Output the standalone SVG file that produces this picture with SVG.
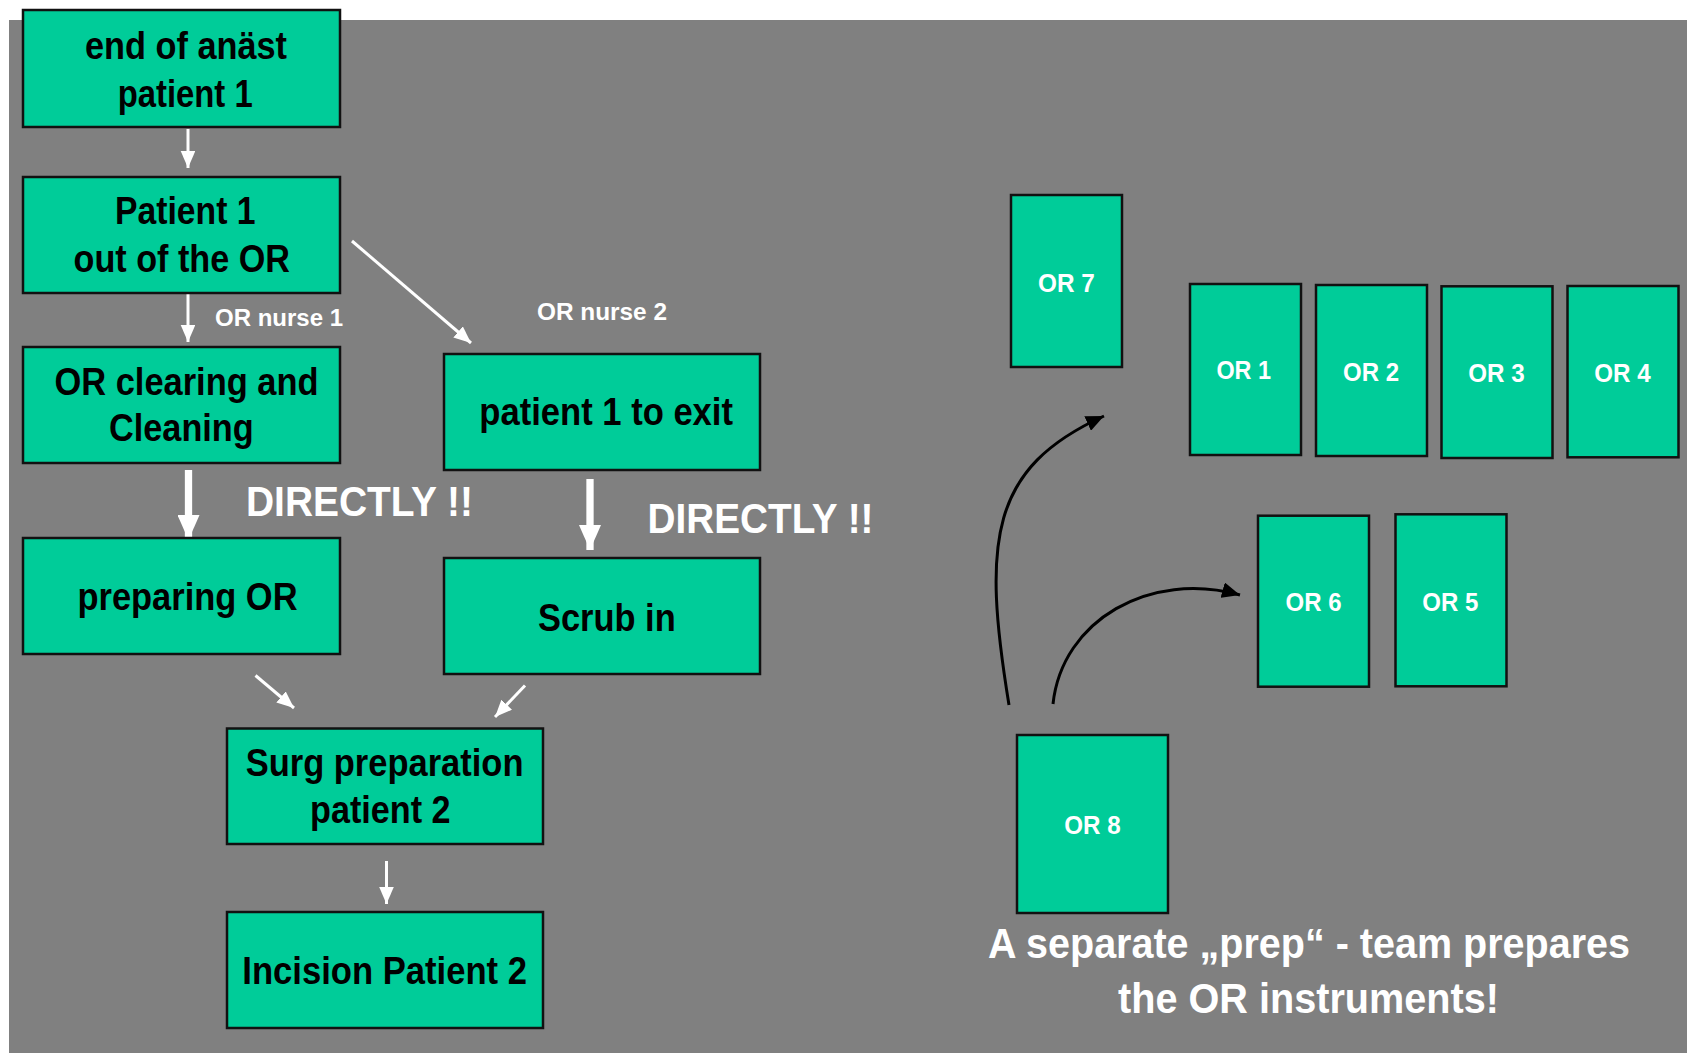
<svg xmlns="http://www.w3.org/2000/svg" width="1687" height="1053" viewBox="0 0 1687 1053">
<defs>
<style>
.box{fill:#00CC99;stroke:#111;stroke-width:2.5}
.t{font-family:"Liberation Sans",Arial,sans-serif;font-weight:bold;font-size:38px;fill:#000}
.w{font-family:"Liberation Sans",Arial,sans-serif;font-weight:bold;fill:#fff}
.or{font-size:26px}
.thin{stroke:#fff;stroke-width:3;fill:none}
.thick{stroke:#fff;stroke-width:7.3;fill:none}
.blk{stroke:#000;stroke-width:3;fill:none}
</style>
<marker id="hw" markerUnits="userSpaceOnUse" markerWidth="17" markerHeight="15" refX="17" refY="7.3" orient="auto">
<path d="M0,0 L17,7.3 L0,14.6 z" fill="#fff"/>
</marker>
<marker id="hW" markerUnits="userSpaceOnUse" markerWidth="25" markerHeight="22" refX="25" refY="11" orient="auto">
<path d="M0,0 L25,11 L0,22 z" fill="#fff"/>
</marker>
<marker id="hb" markerUnits="userSpaceOnUse" markerWidth="18" markerHeight="16" refX="18" refY="8" orient="auto">
<path d="M0,0 L18,8 L0,16 z" fill="#000"/>
</marker>
</defs>
<rect x="0" y="0" width="1687" height="1053" fill="#fff"/>
<rect x="9" y="20" width="1678" height="1033" fill="#808080"/>

<g id="connectors">
<line class="thin" x1="188" y1="129" x2="188" y2="168" marker-end="url(#hw)"/>
<line class="thin" x1="188" y1="293" x2="188" y2="342" marker-end="url(#hw)"/>
<line class="thin" x1="352" y1="241" x2="471" y2="343" marker-end="url(#hw)"/>
<line class="thick" x1="188.5" y1="470" x2="188.5" y2="540" marker-end="url(#hW)"/>
<line class="thick" x1="590" y1="479" x2="590" y2="550" marker-end="url(#hW)"/>
<line class="thin" x1="255.5" y1="675.5" x2="294" y2="708" marker-end="url(#hw)"/>
<line class="thin" x1="525" y1="685.5" x2="495" y2="717" marker-end="url(#hw)"/>
<line class="thin" x1="386.5" y1="861" x2="386.5" y2="904" marker-end="url(#hw)"/>
<path class="blk" d="M1009,705 C982,540 990,468 1104,416" marker-end="url(#hb)"/>
<path class="blk" d="M1053,704 C1062,620 1150,570 1240,595" marker-end="url(#hb)"/>
</g>

<g id="labels">
<text class="w" font-size="24" x="215" y="326" textLength="128" lengthAdjust="spacingAndGlyphs">OR nurse 1</text>
<text class="w" font-size="24" x="537" y="320" textLength="130" lengthAdjust="spacingAndGlyphs">OR nurse 2</text>
<text class="w" font-size="42" x="246" y="516" textLength="227" lengthAdjust="spacingAndGlyphs">DIRECTLY !!</text>
<text class="w" font-size="42" x="647.5" y="533" textLength="226" lengthAdjust="spacingAndGlyphs">DIRECTLY !!</text>
<text class="w" font-size="42" x="988" y="958" textLength="642" lengthAdjust="spacingAndGlyphs">A separate „prep“ - team prepares</text>
<text class="w" font-size="42" x="1118" y="1013" textLength="381" lengthAdjust="spacingAndGlyphs">the OR instruments!</text>
</g>

<g id="n-end-anaest">
<rect class="box" x="23" y="10" width="317" height="117"/>
<text class="t" x="85" y="59" textLength="202" lengthAdjust="spacingAndGlyphs">end of anäst</text>
<text class="t" x="117.7" y="106.7" textLength="135" lengthAdjust="spacingAndGlyphs">patient 1</text>
</g>
<g id="n-patient-out">
<rect class="box" x="23" y="177" width="317" height="116"/>
<text class="t" x="115" y="224" textLength="140.5" lengthAdjust="spacingAndGlyphs">Patient 1</text>
<text class="t" x="73.5" y="272" textLength="216.5" lengthAdjust="spacingAndGlyphs">out of the OR</text>
</g>
<g id="n-or-clearing">
<rect class="box" x="23" y="347" width="317" height="116"/>
<text class="t" x="54.5" y="395" textLength="264" lengthAdjust="spacingAndGlyphs">OR clearing and</text>
<text class="t" x="109" y="441" textLength="144.7" lengthAdjust="spacingAndGlyphs">Cleaning</text>
</g>
<g id="n-to-exit">
<rect class="box" x="444" y="354" width="316" height="116"/>
<text class="t" x="479.3" y="425" textLength="253.7" lengthAdjust="spacingAndGlyphs">patient 1 to exit</text>
</g>
<g id="n-preparing">
<rect class="box" x="23" y="538" width="317" height="116"/>
<text class="t" x="77.5" y="610" textLength="220" lengthAdjust="spacingAndGlyphs">preparing OR</text>
</g>
<g id="n-scrub">
<rect class="box" x="444" y="558" width="316" height="116"/>
<text class="t" x="538" y="630.5" textLength="137.7" lengthAdjust="spacingAndGlyphs">Scrub in</text>
</g>
<g id="n-surg-prep">
<rect class="box" x="227" y="728.5" width="316" height="115.5"/>
<text class="t" x="245.7" y="775.8" textLength="277.8" lengthAdjust="spacingAndGlyphs">Surg preparation</text>
<text class="t" x="310" y="822.7" textLength="140.6" lengthAdjust="spacingAndGlyphs">patient 2</text>
</g>
<g id="n-incision">
<rect class="box" x="227" y="912" width="316" height="116"/>
<text class="t" x="242.3" y="984.3" textLength="284.7" lengthAdjust="spacingAndGlyphs">Incision Patient 2</text>
</g>

<g id="or7">
<rect class="box" x="1011" y="195" width="111" height="172"/>
<text class="w or" x="1038" y="291.7" textLength="56.8" lengthAdjust="spacingAndGlyphs">OR 7</text>
</g>
<g id="or1">
<rect class="box" x="1190" y="284" width="111" height="171"/>
<text class="w or" x="1216.4" y="379.3" textLength="54.6" lengthAdjust="spacingAndGlyphs">OR 1</text>
</g>
<g id="or2">
<rect class="box" x="1316" y="285" width="111" height="171"/>
<text class="w or" x="1343" y="380.7" textLength="56" lengthAdjust="spacingAndGlyphs">OR 2</text>
</g>
<g id="or3">
<rect class="box" x="1441.5" y="286.3" width="111" height="171.7"/>
<text class="w or" x="1468.3" y="382.3" textLength="56.4" lengthAdjust="spacingAndGlyphs">OR 3</text>
</g>
<g id="or4">
<rect class="box" x="1567.5" y="286" width="111" height="171.3"/>
<text class="w or" x="1594.3" y="381.7" textLength="56.4" lengthAdjust="spacingAndGlyphs">OR 4</text>
</g>
<g id="or6">
<rect class="box" x="1258" y="515.7" width="111" height="171"/>
<text class="w or" x="1285.5" y="611" textLength="56" lengthAdjust="spacingAndGlyphs">OR 6</text>
</g>
<g id="or5">
<rect class="box" x="1395.5" y="514.3" width="111" height="172"/>
<text class="w or" x="1422.3" y="611" textLength="56" lengthAdjust="spacingAndGlyphs">OR 5</text>
</g>
<g id="or8">
<rect class="box" x="1017" y="735" width="151" height="178"/>
<text class="w or" x="1064.2" y="834.3" textLength="56.4" lengthAdjust="spacingAndGlyphs">OR 8</text>
</g>
</svg>
